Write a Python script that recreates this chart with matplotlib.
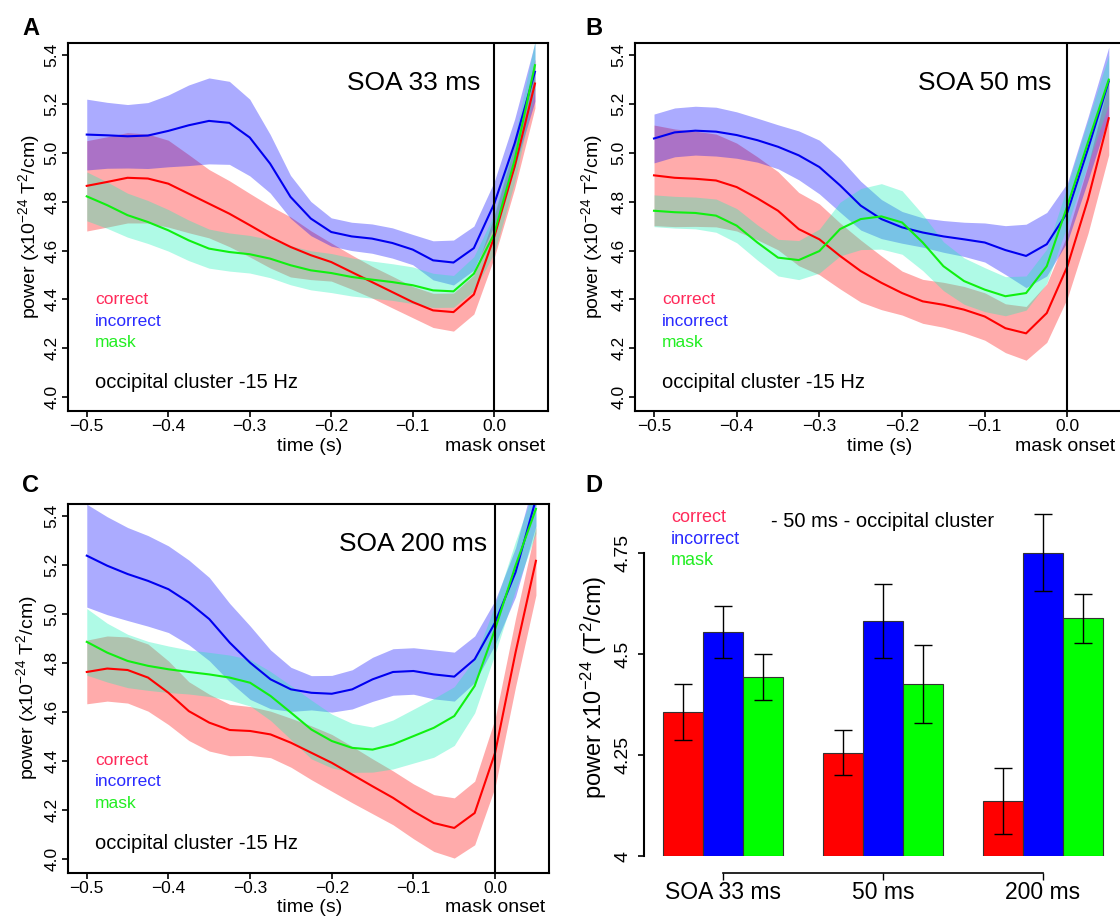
import numpy as np
import matplotlib
matplotlib.use("Agg")
import matplotlib.pyplot as plt

plt.rcParams["font.family"] = ["Liberation Sans", "DejaVu Sans"]
plt.rcParams["mathtext.fontset"] = "custom"
plt.rcParams["mathtext.rm"] = "Liberation Sans"
plt.rcParams["mathtext.it"] = "Liberation Sans:italic"
plt.rcParams["mathtext.bf"] = "Liberation Sans:bold"

# ---- time course data (mean, half-width of band), t from -0.5 to 0.05 s ----
t = np.round(np.arange(-0.5, 0.0501, 0.025), 3)

a_correct = [4.865, 4.881, 4.898, 4.895, 4.874, 4.833, 4.792, 4.751, 4.704, 4.656, 4.615, 4.581,
             4.553, 4.512, 4.471, 4.430, 4.389, 4.355, 4.348, 4.420, 4.656, 4.943, 5.284]
a_correct_se = [0.185, 0.185, 0.185, 0.182, 0.178, 0.16, 0.14, 0.135, 0.13, 0.127, 0.123, 0.1,
                0.078, 0.07, 0.065, 0.065, 0.064, 0.07, 0.078, 0.08, 0.085, 0.09, 0.1]
a_incorrect = [5.075, 5.072, 5.068, 5.071, 5.090, 5.113, 5.131, 5.123, 5.063, 4.956, 4.820, 4.731,
               4.676, 4.658, 4.649, 4.631, 4.604, 4.560, 4.551, 4.610, 4.792, 5.038, 5.332]
a_incorrect_se = [0.145, 0.135, 0.13, 0.135, 0.147, 0.165, 0.176, 0.17, 0.157, 0.12, 0.088, 0.07,
                  0.058, 0.058, 0.06, 0.062, 0.062, 0.08, 0.092, 0.09, 0.09, 0.1, 0.12]
a_mask = [4.822, 4.786, 4.745, 4.717, 4.683, 4.642, 4.608, 4.594, 4.585, 4.567, 4.540, 4.519,
          4.508, 4.492, 4.481, 4.471, 4.458, 4.437, 4.433, 4.505, 4.669, 4.970, 5.359]
a_mask_se = [0.1, 0.095, 0.09, 0.088, 0.085, 0.083, 0.08, 0.078, 0.077, 0.078, 0.08, 0.08,
             0.08, 0.078, 0.076, 0.075, 0.075, 0.07, 0.065, 0.07, 0.08, 0.09, 0.1]

b_correct = [4.908, 4.898, 4.894, 4.887, 4.860, 4.814, 4.763, 4.688, 4.646, 4.578, 4.516, 4.468,
             4.426, 4.392, 4.378, 4.358, 4.330, 4.282, 4.261, 4.344, 4.536, 4.812, 5.142]
b_correct_se = [0.206, 0.2, 0.195, 0.19, 0.18, 0.17, 0.16, 0.15, 0.145, 0.135, 0.127, 0.11,
                0.09, 0.09, 0.092, 0.095, 0.097, 0.1, 0.11, 0.12, 0.13, 0.14, 0.15]
b_incorrect = [5.059, 5.084, 5.091, 5.087, 5.073, 5.052, 5.025, 4.990, 4.942, 4.867, 4.784, 4.729,
               4.695, 4.674, 4.658, 4.646, 4.633, 4.602, 4.578, 4.626, 4.757, 5.018, 5.293]
b_incorrect_se = [0.1, 0.1, 0.1, 0.1, 0.095, 0.09, 0.09, 0.1, 0.11, 0.11, 0.1, 0.08,
                  0.065, 0.06, 0.065, 0.07, 0.08, 0.1, 0.13, 0.13, 0.12, 0.13, 0.14]
b_mask = [4.763, 4.757, 4.754, 4.743, 4.702, 4.633, 4.571, 4.561, 4.598, 4.688, 4.729, 4.740,
          4.715, 4.633, 4.536, 4.475, 4.440, 4.413, 4.426, 4.536, 4.784, 5.045, 5.300]
b_mask_se = [0.065, 0.065, 0.065, 0.068, 0.07, 0.072, 0.075, 0.08, 0.09, 0.11, 0.125, 0.134,
             0.13, 0.115, 0.1, 0.095, 0.09, 0.08, 0.07, 0.07, 0.08, 0.09, 0.1]

c_correct = [4.764, 4.778, 4.772, 4.741, 4.679, 4.604, 4.557, 4.527, 4.523, 4.509, 4.475, 4.434,
             4.393, 4.345, 4.297, 4.250, 4.195, 4.147, 4.127, 4.188, 4.434, 4.843, 5.218]
c_correct_se = [0.13, 0.133, 0.135, 0.137, 0.13, 0.12, 0.116, 0.105, 0.1, 0.095, 0.1, 0.11,
                0.116, 0.115, 0.112, 0.11, 0.112, 0.116, 0.123, 0.13, 0.14, 0.14, 0.14]
c_incorrect = [5.239, 5.198, 5.164, 5.136, 5.102, 5.048, 4.980, 4.884, 4.802, 4.734, 4.693, 4.679,
               4.675, 4.693, 4.734, 4.764, 4.768, 4.754, 4.745, 4.816, 4.966, 5.171, 5.47]
c_incorrect_se = [0.21, 0.2, 0.19, 0.185, 0.177, 0.173, 0.17, 0.16, 0.15, 0.12, 0.09, 0.07,
                  0.075, 0.08, 0.09, 0.095, 0.095, 0.1, 0.1, 0.095, 0.09, 0.1, 0.11]
c_mask = [4.887, 4.843, 4.809, 4.789, 4.775, 4.764, 4.754, 4.741, 4.720, 4.666, 4.598, 4.529,
          4.482, 4.454, 4.447, 4.468, 4.502, 4.536, 4.584, 4.707, 4.939, 5.198, 5.43]
c_mask_se = [0.136, 0.12, 0.109, 0.1, 0.095, 0.09, 0.09, 0.092, 0.095, 0.1, 0.11, 0.12,
             0.11, 0.1, 0.092, 0.1, 0.11, 0.12, 0.12, 0.11, 0.1, 0.1, 0.1]

# ---- bar data (panel D) ----
soa_labels = ["SOA 33 ms", "50 ms", "200 ms"]
bar_correct = [4.357, 4.256, 4.136]
bar_correct_err = [0.069, 0.056, 0.081]
bar_incorrect = [4.555, 4.582, 4.751]
bar_incorrect_err = [0.064, 0.092, 0.096]
bar_mask = [4.442, 4.426, 4.588]
bar_mask_err = [0.057, 0.097, 0.06]

conditions = ["correct", "incorrect", "mask"]
line_colors = {"correct": "#FF0000", "incorrect": "#0000F0", "mask": "#10F010"}
band_colors = {"correct": ("#FF0000", 0.33), "incorrect": ("#0000FF", 0.33), "mask": ("#1AF1B8", 0.35)}
label_colors = {"correct": "#FF2A5A", "incorrect": "#2A2AFF", "mask": "#22EE22"}
bar_colors = {"correct": "#FF0000", "incorrect": "#0000FF", "mask": "#00FF00"}

W, H = 1120, 917
fig = plt.figure(figsize=(W / 100, H / 100), dpi=100)
fig.patch.set_facecolor("white")


def box(l, top, r, b):
    return [l / W, 1 - b / H, (r - l) / W, (b - top) / H]


def ftext(x, y, s, **kw):
    kw.setdefault("va", "baseline")
    fig.text(x / W, 1 - y / H, s, **kw)


def draw_time_panel(ax, series, soa_text, px):
    for name in conditions:
        m = np.array(series[name][0])
        se = np.array(series[name][1])
        col, alp = band_colors[name]
        ax.fill_between(t, m - se, m + se, color=col, alpha=alp, lw=0)
        ax.plot(t, m, color=line_colors[name], lw=1.5)
    ax.axvline(0, color="black", lw=1.5)
    ax.set_xlim(-0.523, 0.066)
    ax.set_ylim(3.943, 5.45)
    xt = [-0.5, -0.4, -0.3, -0.2, -0.1, 0.0]
    ax.set_xticks(xt)
    ax.set_xticklabels([f"{v:.1f}".replace("-", "\u2212") for v in xt])
    yt = [4.0, 4.2, 4.4, 4.6, 4.8, 5.0, 5.2, 5.4]
    ax.set_yticks(yt)
    ax.set_yticklabels([f"{v:.1f}" for v in yt], rotation=90, va="center")
    ax.tick_params(length=4, width=1.2, labelsize=12.5, pad=2)
    for sp in ax.spines.values():
        sp.set_linewidth(1.5)

    left, top, sx, soa_right, ylab_x, lab_y = px
    ftext(soa_right, top + 47, soa_text, fontsize=19, ha="right")
    for i, name in enumerate(conditions):
        ftext(sx, top + 261 + 21.5 * i, name, fontsize=12.5, color=label_colors[name])
    ftext(sx, top + 345, "occipital cluster -15 Hz", fontsize=14.5)
    ftext(ylab_x, top + 184, "power (x10$^{-24}$ T$^2$/cm)", fontsize=14,
          rotation=90, ha="center", va="center")
    ftext(lab_y[0], top + 408, "time (s)", fontsize=14, ha="center")
    ftext(lab_y[1], top + 408, "mask onset", fontsize=14, ha="center")


# ---- Panels A, B, C ----
ax_a = fig.add_axes(box(68, 43, 548, 411))
draw_time_panel(ax_a, {"correct": (a_correct, a_correct_se),
                       "incorrect": (a_incorrect, a_incorrect_se),
                       "mask": (a_mask, a_mask_se)},
                "SOA 33 ms", (68, 43, 95, 480, 29, (310, 495)))

ax_b = fig.add_axes(box(635, 43, 1122, 411))
ax_b.spines["right"].set_visible(False)
draw_time_panel(ax_b, {"correct": (b_correct, b_correct_se),
                       "incorrect": (b_incorrect, b_incorrect_se),
                       "mask": (b_mask, b_mask_se)},
                "SOA 50 ms", (635, 43, 662, 1051, 592, (880, 1065)))

ax_c = fig.add_axes(box(68, 504, 549, 873))
draw_time_panel(ax_c, {"correct": (c_correct, c_correct_se),
                       "incorrect": (c_incorrect, c_incorrect_se),
                       "mask": (c_mask, c_mask_se)},
                "SOA 200 ms", (68, 504, 95, 487, 27, (310, 495)))

# ---- Panel D: bar chart ----
ax_d = fig.add_axes(box(644, 500, 1110, 856))
group_start = np.array([1.5, 5.5, 9.5])
bar_data = {"correct": (bar_correct, bar_correct_err),
            "incorrect": (bar_incorrect, bar_incorrect_err),
            "mask": (bar_mask, bar_mask_err)}
for i, name in enumerate(conditions):
    vals, errs = bar_data[name]
    vals = np.array(vals)
    xpos = group_start + i
    ax_d.bar(xpos, vals - 4, bottom=4, width=1.0, color=bar_colors[name],
             edgecolor="#333333", lw=0.8)
    ax_d.errorbar(xpos, vals, yerr=errs, fmt="none", ecolor="black",
                  elinewidth=1, capsize=6.5, capthick=1)

ax_d.set_xlim(0.53, 12.18)
ax_d.set_ylim(4.0, 4.881)
for s in ["top", "right"]:
    ax_d.spines[s].set_visible(False)
ax_d.spines["left"].set_bounds(4.0, 4.75)
ax_d.spines["left"].set_linewidth(1.5)
ax_d.spines["bottom"].set_bounds(2.5, 10.5)
ax_d.spines["bottom"].set_position(("outward", 12))
ax_d.spines["bottom"].set_linewidth(1.2)
ax_d.set_yticks([4.0, 4.25, 4.5, 4.75])
ax_d.set_yticklabels(["4", "4.25", "4.5", "4.75"], rotation=90, va="center")
ax_d.set_xticks(group_start + 1)
ax_d.set_xticklabels(soa_labels)
ax_d.tick_params(axis="y", length=4, width=1.2, labelsize=14, pad=5)
ax_d.tick_params(axis="x", length=5, width=1.0, labelsize=16.5, pad=1)

for i, name in enumerate(conditions):
    ftext(671, 522 + 21.6 * i, name, fontsize=13, color=label_colors[name])
ftext(883, 527, "- 50 ms - occipital cluster", fontsize=14.5, ha="center")
ftext(594, 687, "power x10$^{-24}$ (T$^2$/cm)", fontsize=17,
      rotation=90, ha="center", va="center")

# ---- Panel letters ----
for letter, (x, y) in {"A": (22, 35), "B": (585, 35), "C": (22, 492), "D": (585, 492)}.items():
    ftext(x, y, letter, fontsize=17, fontweight="bold")

fig.savefig("out.png", dpi=100)
plt.close(fig)
